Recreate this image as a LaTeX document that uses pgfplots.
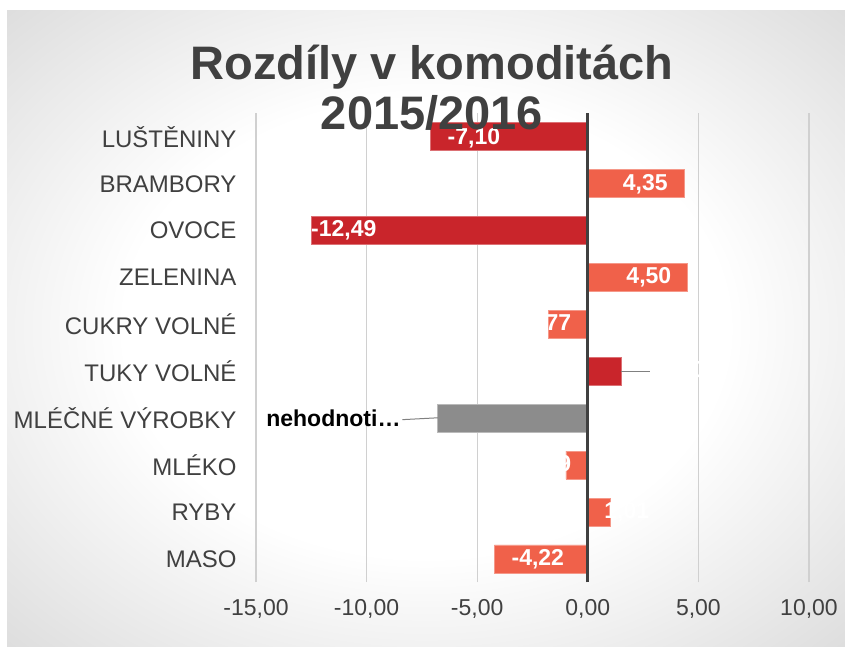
\documentclass[border=0pt]{standalone}
\usepackage{pgfplots}
\pgfplotsset{compat=1.18}
\usepackage{fontspec}
\setmainfont{Liberation Sans}
\definecolor{cdark}{HTML}{C9252B}
\definecolor{corange}{HTML}{F0614A}
\definecolor{cgray}{HTML}{8C8C8C}
\definecolor{ctext}{HTML}{404040}
\definecolor{cgrid}{HTML}{D0D0D0}
\pgfdeclareradialshading{bgshade}{\pgfpointorigin}{color(0bp)=(white); color(18bp)=(white); color(50bp)=(black!24); color(72bp)=(black!32)}
\begin{document}
\begin{tikzpicture}
\useasboundingbox (0,0) rectangle (845pt,646pt);
\fill[white] (0,0) rectangle (845pt,646pt);
\shade[shading=bgshade] (7pt,0pt) rectangle (845pt,635pt);
\begin{axis}[
  at={(256pt,63.6pt)}, anchor=south west,
  scale only axis, width=553pt, height=469pt,
  xmin=-15, xmax=10, ymin=-0.5, ymax=9.5,
  xbar, bar width=28pt, bar shift=0pt,
  axis line style={draw=none},
  major tick length=0pt,
  xtick={-15,-10,-5,0,5,10},
  xticklabels={{-15,00},{-10,00},{-5,00},{0,00},{5,00},{10,00}},
  ytick={0,...,9},
  yticklabels={MASO,RYBY,MLÉKO,{MLÉČNÉ VÝROBKY},{TUKY VOLNÉ},{CUKRY VOLNÉ},ZELENINA,OVOCE,BRAMBORY,{LUŠTĚNINY}},
  xmajorgrids, major grid style={cgrid, line width=1.2pt},
  xticklabel style={font=\fontsize{23}{27}\selectfont, text=ctext, yshift=-14pt},
  yticklabel style={font=\fontsize{24}{28}\selectfont, text=ctext, xshift=-16pt},
  clip=false,
]
\addplot[fill=cdark, draw=cdark!65!white, line width=0.8pt] coordinates {(-7.10,9) (-12.49,7) (1.50,4)};
\addplot[fill=corange, draw=corange!65!white, line width=0.8pt] coordinates {(4.35,8) (4.50,6) (-1.77,5) (-0.99,2) (1.01,1) (-4.22,0)};
\addplot[fill=cgray, draw=cgray!60!white, line width=0.8pt] coordinates {(-6.78,3)};
% zero line
\draw[ctext, line width=3pt] (axis cs:0,-0.5) -- (axis cs:0,9.5);
% leader lines
\draw[gray, line width=1pt] (axis cs:1.52,4) -- (axis cs:2.80,4);
\draw[gray, line width=1pt] (axis cs:-8.38,2.97) -- (axis cs:-6.78,3.01);
% data labels
\begin{scope}[every node/.style={font=\bfseries\fontsize{23}{27}\selectfont, text=white, inner sep=0pt}]
\node at (axis cs:-5.15,8.96) {-7,10};
\node at (axis cs:2.60,8) {4,35};
\node at (axis cs:-11.03,7) {-12,49};
\node at (axis cs:2.76,6) {4,50};
\node at (axis cs:-1.94,5) {-1,77};
\node at (axis cs:4.25,4) {1,50};
\node[text=black] at (axis cs:-11.5,3) {nehodnoti…};
\node at (axis cs:-1.94,2) {-0,99};
\node at (axis cs:1.76,1) {1,01};
\node at (axis cs:-2.26,0) {-4,22};
\end{scope}
\end{axis}
\node[align=center, text=ctext, font=\bfseries\fontsize{47}{50}\selectfont] at (432pt,558pt) {Rozdíly v komoditách\\2015/2016};
\end{tikzpicture}
\end{document}
